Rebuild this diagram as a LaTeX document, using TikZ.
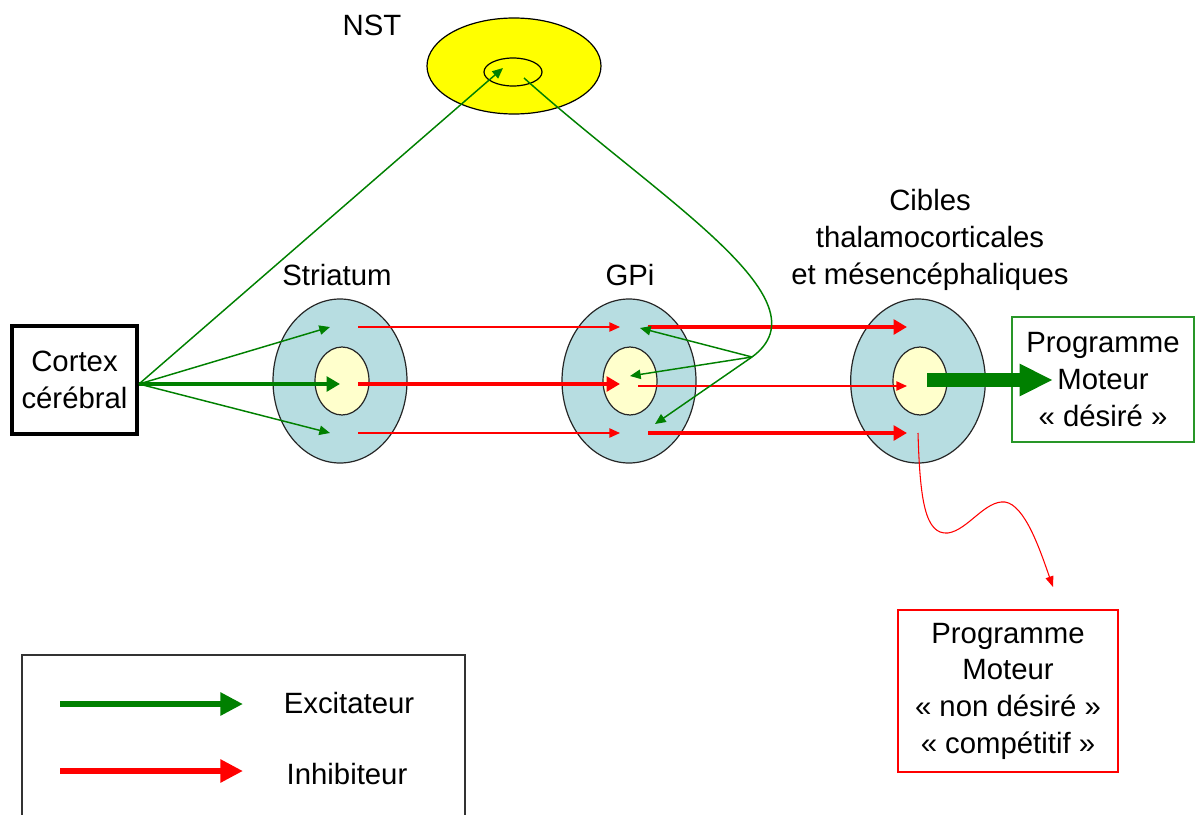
\documentclass[tikz,border=0pt]{standalone}
\usepackage{fontspec}
\setmainfont{Liberation Sans}
\usetikzlibrary{shapes.geometric,arrows.meta}
\definecolor{gr}{RGB}{0,128,0}
\definecolor{boxgr}{RGB}{40,150,40}
\definecolor{lblue}{RGB}{183,221,225}
\definecolor{pyellow}{RGB}{255,255,204}
\definecolor{nstyellow}{RGB}{255,255,0}
\begin{document}
\begin{tikzpicture}[x=0.75pt,y=-0.75pt,
  lbl/.style={font=\fontsize{22}{27.5}\selectfont, align=center, inner sep=0pt},
  ring/.style={ellipse, draw=black!85, line width=0.9pt, fill=lblue, inner sep=0pt, outer sep=0pt},
  core/.style={ellipse, draw=black!85, line width=0.9pt, fill=pyellow, inner sep=0pt, outer sep=0pt},
  thinG/.style={draw=gr, line width=1.1pt, -{Triangle[length=8pt,width=7pt]}},
  thinR/.style={draw=red, line width=1.1pt, -{Triangle[length=8pt,width=7pt]}},
  thickG/.style={draw=gr, line width=3.4pt, -{Triangle[length=10pt,width=11pt]}},
  thickR/.style={draw=red, line width=3.6pt, -{Triangle[length=10pt,width=11pt]}},
  bigG/.style={draw=gr, line width=11pt, -{Triangle[length=25pt,width=22.5pt]}},
  legG/.style={draw=gr, line width=4.5pt, -{Triangle[length=17pt,width=16.5pt]}},
  legR/.style={draw=red, line width=4.5pt, -{Triangle[length=17pt,width=16.5pt]}},
]
\useasboundingbox (0,0) rectangle (1196,814);

% NST
\node[ellipse, draw=black, line width=0.9pt, fill=nstyellow, minimum width=130.5pt, minimum height=72pt, inner sep=0pt] (nst) at (514,66) {};
\node[ellipse, draw=black, line width=0.9pt, minimum width=43.5pt, minimum height=21pt, inner sep=0pt] (nsti) at (513,72) {};
\node[lbl] (nstl) at (372,25) {NST};

% nuclei
\node[ring, minimum width=100.5pt, minimum height=123pt] (str) at (340,381) {};
\node[core, minimum width=40.5pt, minimum height=51pt] (stri) at (342,381) {};
\node[ring, minimum width=100.5pt, minimum height=123pt] (gpi) at (629,381) {};
\node[core, minimum width=40.5pt, minimum height=51pt] (gpii) at (630,381) {};
\node[ring, minimum width=101pt, minimum height=123pt] (cib) at (918,381) {};
\node[core, minimum width=40.5pt, minimum height=51pt] (cibi) at (920,381) {};

\node[lbl] (strl) at (337,275) {Striatum};
\node[lbl] (gpil) at (630,275) {GPi};
\node[lbl] (cibl) at (930,240) {Cibles\\thalamocorticales\\et mésencéphaliques};

% boxes
\node[lbl, draw=black, line width=3pt, minimum width=93.75pt, minimum height=81pt] (cortex) at (74.5,380) {Cortex\\cérébral};
\node[lbl, draw=boxgr, line width=1.1pt, minimum width=136.5pt, minimum height=93.75pt] (des) at (1103,379.5) {Programme\\Moteur\\« désiré »};
\node[lbl, draw=red, line width=1.1pt, minimum width=165pt, minimum height=121.5pt] (nondes) at (1008,691) {Programme\\Moteur\\« non désiré »\\« compétitif »};

% coordinates
\coordinate (co) at (139,384);
\coordinate (sT) at (330,327);
\coordinate (sM) at (340,384);
\coordinate (sB) at (330,433);
\coordinate (sTo) at (358,327);
\coordinate (sMo) at (358,384);
\coordinate (sBo) at (358,433);
\coordinate (gT) at (620,327);
\coordinate (gM) at (620,384);
\coordinate (gB) at (620,433);
\coordinate (gTo) at (648,327);
\coordinate (gMo) at (638,386);
\coordinate (gBo) at (648,433);
\coordinate (gTi) at (640,328);
\coordinate (gMi) at (630,376);
\coordinate (gBi) at (655,424);
\coordinate (cT) at (907,327);
\coordinate (cM) at (907,386);
\coordinate (cB) at (907,433);
\coordinate (cBo) at (918,433);
\coordinate (cMo) at (927,380);
\coordinate (nIn) at (503,68);
\coordinate (nOut) at (524,78);
\coordinate (fan) at (752,357);
\coordinate (nd) at (1053,587);

% cortex -> striatum / NST
\draw[thinG] (co) -- (nIn);
\draw[thinG] (co) -- (sT);
\draw[thinG] (co) -- (sB);
\draw[thickG] (co) -- (sM);

% striatum -> GPi
\draw[thinR] (sTo) -- (gT);
\draw[thickR] (sMo) -- (gM);
\draw[thinR] (sBo) -- (gB);

% GPi -> cibles
\draw[thickR] (gTo) -- (cT);
\draw[thinR] (gMo) -- (cM);
\draw[thickR] (gBo) -- (cB);

% NST -> GPi
\draw[thinG] (nOut) .. controls (660,200) and (830,300) .. (fan) -- (gBi);
\draw[thinG] (fan) -- (gTi);
\draw[thinG] (fan) -- (gMi);

% outputs
\draw[bigG] (cMo) -- (1053,380) coordinate (dtip);
\draw[draw=red, line width=0.8pt, -{Triangle[length=8pt,width=6pt]}] (cBo) .. controls (920,500) and (925,535) .. (948,533) .. controls (968,530) and (985,500) .. (1005,502) .. controls (1025,505) and (1040,550) .. (nd);

% legend
\draw[line width=0.9pt, draw=black!80] (22,816) -- (22,655) -- (465,655) -- (465,816);
\coordinate (l1a) at (60,704);
\coordinate (l1b) at (243,704);
\coordinate (l2a) at (60,771);
\coordinate (l2b) at (243,771);
\draw[legG] (l1a) -- (l1b);
\draw[legR] (l2a) -- (l2b);
\node[lbl] (exc) at (349,703) {Excitateur};
\node[lbl] (inh) at (347,774) {Inhibiteur};
\end{tikzpicture}
\end{document}
